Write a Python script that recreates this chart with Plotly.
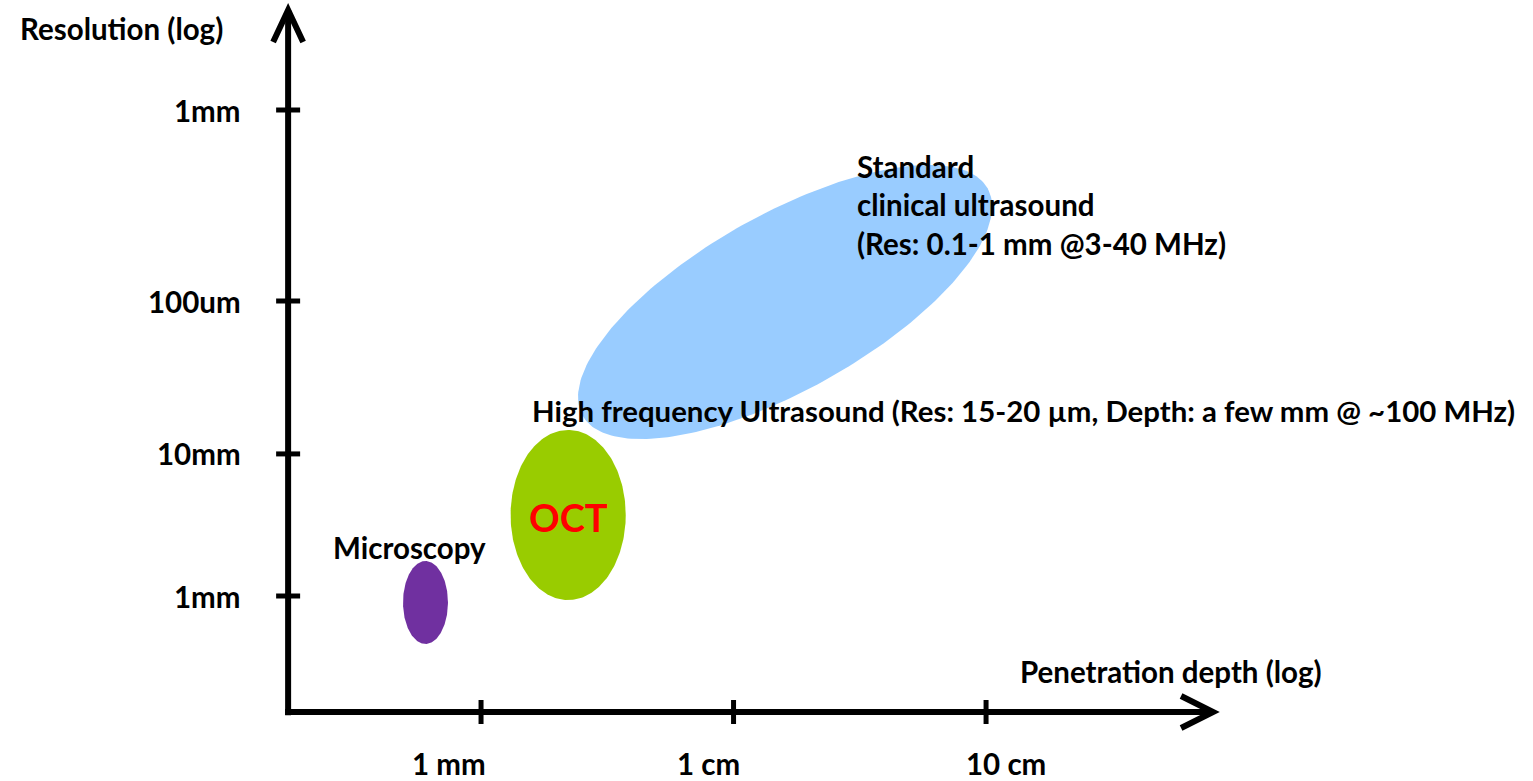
import numpy as np
import plotly.graph_objects as go

# ---------------- data ----------------
# x axis: penetration depth, log10 decades relative to 1 mm
x_tick_vals = [0.0, 1.0, 2.0]
x_tick_labels = ["1 mm", "1 cm", "10 cm"]
x_label_pos = [-0.127, 0.899, 2.079]

# y axis: resolution (log), tick positions in decades (as drawn)
y_tick_vals = [0.0, 0.877, 1.821, 3.0]
y_tick_labels = ["1mm", "10mm", "100um", "1mm"]

# ellipses: centre x, centre y, half-extent x, half-extent y, phase (deg; 90 = upright)
names = ["Standard clinical ultrasound", "OCT", "Microscopy"]
cx = [1.204, 0.345, -0.220]
cy = [1.815, 0.500, -0.040]
rx = [0.820, 0.228, 0.089]
ry = [0.846, 0.525, 0.256]
phase = [46.0, 90.0, 90.0]
colors = ["#99CCFF", "#99CC00", "#7030A0"]

FONT = "Lato, sans-serif"
FS = 29.5

fig = go.Figure()

t = np.linspace(0, 2 * np.pi, 241)
for i in range(len(names)):
    xs = cx[i] + rx[i] * np.cos(t)
    ys = cy[i] + ry[i] * np.cos(t - np.deg2rad(phase[i]))
    fig.add_trace(go.Scatter(x=xs, y=ys, mode="lines", fill="toself",
                             fillcolor=colors[i], line=dict(width=0, color=colors[i]),
                             hoverinfo="skip", showlegend=False, name=names[i]))

# axes geometry
ax_x = -0.764   # position of y-axis line (x value)
ax_y = -0.716   # position of x-axis line (y value)
x_end = 2.899
y_end = 3.617
LW = 6

shapes = []
shapes.append(dict(type="line", xref="x", yref="y", x0=ax_x, x1=ax_x, y0=ax_y - 0.02, y1=y_end,
                   line=dict(color="black", width=LW)))
shapes.append(dict(type="line", xref="x", yref="y", x0=ax_x - 0.012, x1=x_end, y0=ax_y, y1=ax_y,
                   line=dict(color="black", width=LW)))
shapes.append(dict(type="path", xref="x", yref="y", xsizemode="pixel", ysizemode="pixel",
                   xanchor=ax_x, yanchor=y_end, path="M -15,-32 L 0,0 L 15,-32",
                   line=dict(color="black", width=LW)))
shapes.append(dict(type="path", xref="x", yref="y", xsizemode="pixel", ysizemode="pixel",
                   xanchor=x_end, yanchor=ax_y, path="M -32,16 L 0,0 L -32,-16",
                   line=dict(color="black", width=LW)))
for v in x_tick_vals:
    shapes.append(dict(type="line", xref="x", yref="y", ysizemode="pixel", yanchor=ax_y,
                       x0=v, x1=v, y0=-12, y1=12, line=dict(color="black", width=5)))
for v in y_tick_vals:
    shapes.append(dict(type="line", xref="x", yref="y", xsizemode="pixel", xanchor=ax_x,
                       x0=-12, x1=12, y0=v, y1=v, line=dict(color="black", width=5)))

annotations = []
def txt(x, y, s, xanchor="left", yanchor="middle", size=FS, color="black", yshift=0):
    annotations.append(dict(x=x, y=y, xref="x", yref="y", text=s, showarrow=False,
                            xanchor=xanchor, yanchor=yanchor, align="left", yshift=yshift,
                            font=dict(family=FONT, size=size, color=color)))

for v, lab in zip(y_tick_vals, y_tick_labels):
    txt(-0.943, v, "<b>%s</b>" % lab, xanchor="right")
for p, lab in zip(x_label_pos, x_tick_labels):
    annotations.append(dict(x=p, y=0, xref="x", yref="paper", text="<b>%s</b>" % lab,
                            showarrow=False, xanchor="center", yanchor="bottom", yshift=-2,
                            font=dict(family=FONT, size=FS, color="black")))

txt(-1.834, 3.506, "<b>Resolution (log)</b>")
txt(2.127, -0.469, "<b>Penetration depth (log)</b>")
txt(-0.594, 0.302, "<b>Microscopy</b>")
txt(cx[1], cy[1] - 0.01, "<b>OCT</b>", xanchor="center", size=38, color="#FF0000")
txt(0.194, 1.148, "<b>High frequency Ultrasound (Res: 15-20 \u00b5m, Depth: a few mm @ ~100 MHz)</b>",
    size=29.4)
annotations.append(dict(x=1.481, y=2.414, xref="x", yref="y", showarrow=False,
                        text="<b>Standard<br>clinical ultrasound<br>(Res: 0.1-1 mm @3-40 MHz)</b>",
                        xanchor="left", yanchor="middle", align="left",
                        font=dict(family=FONT, size=FS, color="black")))

fig.update_layout(
    width=1533, height=781,
    margin=dict(l=0, r=0, t=0, b=0),
    paper_bgcolor="white", plot_bgcolor="white",
    xaxis=dict(range=[-1.905, 4.166], visible=False, fixedrange=True),
    yaxis=dict(range=[-1.142, 3.679], visible=False, fixedrange=True),
    shapes=shapes, annotations=annotations, showlegend=False,
)

fig.write_html("out.html")
